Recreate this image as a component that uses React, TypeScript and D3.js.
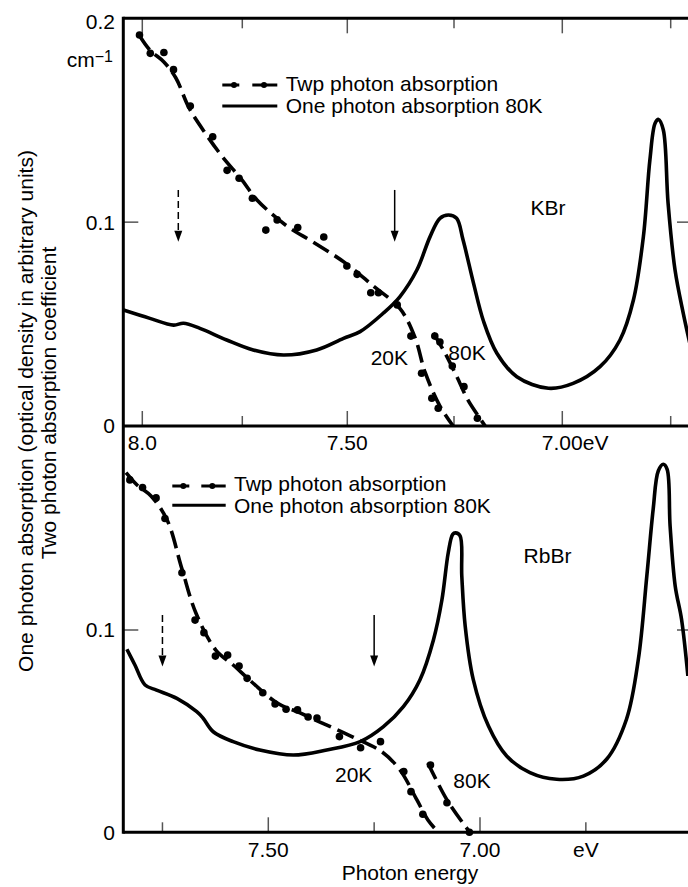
import React from "react";
import * as d3 from "d3";

type P = [number, number];

// x ticks (eV)
const topTicks = [8.0, 7.75, 7.5, 7.25, 7.0, 6.75];
const topTickLabels = ["8.0", "", "7.50", "", "7.00", ""];
const bottomTicks = [7.75, 7.5, 7.25, 7.0, 6.75];
const bottomTickLabels = ["", "7.50", "", "7.00", "eV"];
const yTickValues = [0, 0.1, 0.2];
const yTickLabelsTop = ["0", "0.1", "0.2"];
const yTickLabelsBottom = ["0", "0.1", ""];

// KBr (top panel)
const kbrOnePhoton: P[] = [
  [8.047, 0.0569], [7.981, 0.0528], [7.922, 0.0495], [7.897, 0.0504], [7.856, 0.0479],
  [7.789, 0.0422], [7.724, 0.0373], [7.652, 0.0348], [7.573, 0.0373], [7.509, 0.043],
  [7.47, 0.0463], [7.416, 0.0553], [7.377, 0.0634], [7.337, 0.0765], [7.306, 0.0929],
  [7.283, 0.1019], [7.263, 0.1035], [7.244, 0.1019], [7.229, 0.0912], [7.205, 0.0701],
  [7.182, 0.0515], [7.151, 0.0357], [7.105, 0.0242], [7.032, 0.0185], [6.975, 0.0209],
  [6.913, 0.0291], [6.867, 0.0422], [6.836, 0.0618], [6.813, 0.0929], [6.798, 0.1305],
  [6.786, 0.1485], [6.778, 0.1504], [6.767, 0.1452], [6.756, 0.1092], [6.74, 0.0765],
  [6.721, 0.0553], [6.705, 0.0397],
];
const kbr20KFit: P[] = [
  [8.008, 0.1918], [7.981, 0.1844], [7.946, 0.1786], [7.916, 0.1707], [7.883, 0.156],
  [7.841, 0.1432], [7.803, 0.1329], [7.751, 0.1207], [7.715, 0.1109], [7.644, 0.0981],
  [7.582, 0.0903], [7.505, 0.08], [7.442, 0.0692], [7.376, 0.0574], [7.341, 0.0432],
  [7.318, 0.0265], [7.283, 0.0098], [7.252, 0],
];
const kbr20KPoints: P[] = [
  [8.007, 0.1918], [7.98, 0.1828], [7.946, 0.1832], [7.922, 0.1748], [7.88, 0.157],
  [7.824, 0.1419], [7.788, 0.1254], [7.758, 0.1215], [7.726, 0.1117], [7.667, 0.1011],
  [7.694, 0.0961], [7.618, 0.0974], [7.556, 0.0927], [7.501, 0.0785], [7.477, 0.0744],
  [7.445, 0.0654], [7.427, 0.0654], [7.383, 0.0594], [7.351, 0.0441], [7.326, 0.0259],
  [7.302, 0.0136], [7.287, 0.0087],
];
const kbr80KFit: P[] = [[7.2985, 0.0456], [7.271, 0.0358], [7.243, 0.024], [7.218, 0.0128], [7.178, 0]];
const kbr80KPoints: P[] = [[7.295, 0.0441], [7.283, 0.0412], [7.254, 0.0294], [7.227, 0.0193], [7.196, 0.0038]];
const kbrArrows = [
  { e: 7.91, from: 0.1158, to: 0.0904, dashed: true },
  { e: 7.389, from: 0.1158, to: 0.0904, dashed: false },
];

// RbBr (bottom panel)
const rbbrOnePhoton: P[] = [
  [7.834, 0.0905], [7.815, 0.0827], [7.791, 0.0728], [7.764, 0.0703], [7.716, 0.0662],
  [7.669, 0.0596], [7.654, 0.0564], [7.63, 0.0497], [7.583, 0.0448], [7.52, 0.0407],
  [7.441, 0.0382], [7.362, 0.0407], [7.283, 0.0448], [7.228, 0.0522], [7.181, 0.0621],
  [7.142, 0.0753], [7.11, 0.0951], [7.09, 0.1148], [7.075, 0.1382], [7.0645, 0.1473],
  [7.058, 0.148], [7.047, 0.1465], [7.043, 0.1267], [7.035, 0.102], [7.016, 0.0756],
  [6.98, 0.0525], [6.937, 0.0377], [6.882, 0.0295], [6.819, 0.0262], [6.756, 0.0278],
  [6.701, 0.0361], [6.654, 0.0559], [6.626, 0.0855], [6.606, 0.1267], [6.591, 0.1597],
  [6.579, 0.1786], [6.567, 0.1819], [6.558, 0.1794], [6.551, 0.1514], [6.539, 0.1218],
  [6.524, 0.1053], [6.509, 0.0773],
];
const rbbr20KFit: P[] = [
  [7.836, 0.1778], [7.81, 0.1717], [7.777, 0.1662], [7.739, 0.1544], [7.704, 0.1302],
  [7.671, 0.1084], [7.624, 0.0901], [7.583, 0.0827], [7.539, 0.0743], [7.479, 0.0639],
  [7.425, 0.059], [7.378, 0.0545], [7.3, 0.0471], [7.231, 0.0397], [7.189, 0.0308],
  [7.149, 0.016], [7.123, 0.0061], [7.0985, 0],
];
const rbbr20KPoints: P[] = [
  [7.827, 0.1742], [7.797, 0.1704], [7.765, 0.1653], [7.744, 0.1551], [7.704, 0.1283],
  [7.673, 0.1049], [7.652, 0.0987], [7.625, 0.0871], [7.596, 0.0876], [7.569, 0.0822],
  [7.55, 0.0761], [7.513, 0.069], [7.484, 0.0634], [7.458, 0.0608], [7.431, 0.0605],
  [7.406, 0.057], [7.385, 0.0565], [7.332, 0.0473], [7.282, 0.0418], [7.235, 0.0448],
  [7.18, 0.03], [7.163, 0.0201], [7.135, 0.0089],
];
const rbbr80KFit: P[] = [[7.123, 0.0343], [7.078, 0.016], [7.024, 0]];
const rbbr80KPoints: P[] = [[7.117, 0.0333], [7.078, 0.0146], [7.025, 0]];
const rbbrArrows = [
  { e: 7.75, from: 0.1074, to: 0.0819, dashed: true },
  { e: 7.25, from: 0.1074, to: 0.0819, dashed: false },
];

const legendTwo = "Twp photon absorption";
const legendOne = "One photon absorption 80K";

const FONT = "'Liberation Sans', Arial, Helvetica, sans-serif";
const LEFT = 123.3;
const RIGHT = 692;

const xTop = d3.scaleLinear().domain([8.0, 7.75, 7.5, 7.25, 7.0, 6.75]).range([142.3, 242.3, 347.3, 454, 562.3, 670.7]);
const yTop = d3.scaleLinear().domain([0, 0.2]).range([426, 18.3]);
const xBot = d3.scaleLinear().domain([7.5, 7.0]).range([268.3, 480]);
const yBot = d3.scaleLinear().domain([0, 0.1]).range([832.3, 630]);

function Panel(props: {
  x: d3.ScaleLinear<number, number>;
  y: d3.ScaleLinear<number, number>;
  one: P[]; fit20: P[]; pts20: P[]; fit80: P[]; pts80: P[];
  arrows: { e: number; from: number; to: number; dashed: boolean }[];
  clipId: string;
}) {
  const { x, y } = props;
  const line = d3.line<P>().x((d) => x(d[0])).y((d) => y(d[1])).curve(d3.curveCatmullRom.alpha(0.5));
  return (
    <g>
      <g clipPath={`url(#${props.clipId})`}>
        <path d={line(props.one) || ""} fill="none" stroke="#000" strokeWidth={3.6} strokeLinejoin="round" />
        <path d={line(props.fit20) || ""} fill="none" stroke="#000" strokeWidth={3.6} strokeDasharray="18 7" />
        <path d={line(props.fit80) || ""} fill="none" stroke="#000" strokeWidth={3.6} strokeDasharray="18 7" />
      </g>
      {props.pts20.concat(props.pts80).map((d, i) => (
        <circle key={i} cx={x(d[0])} cy={y(d[1])} r={3.8} fill="#000" />
      ))}
      {props.arrows.map((a, i) => {
        const ax = x(a.e);
        const y1 = y(a.from);
        const y2 = y(a.to);
        return (
          <g key={i}>
            <line x1={ax} x2={ax} y1={y1} y2={y2 - 9} stroke="#000" strokeWidth={1.5} strokeDasharray={a.dashed ? "7 4" : undefined} />
            <path d={`M${ax - 4},${y2 - 11} L${ax + 4},${y2 - 11} L${ax},${y2} Z`} fill="#000" />
          </g>
        );
      })}
    </g>
  );
}

export default function App() {
  const tickLen = (v: number) => (Math.abs(Math.round(v * 2) - v * 2) < 1e-6 ? 15 : 10);
  return (
    <svg width={688} height={887} style={{ position: "absolute", left: 0, top: 0, background: "#fff" }} fontFamily={FONT}>
      <defs>
        <clipPath id="clipTop"><rect x={LEFT} y={0} width={RIGHT - LEFT} height={887} /></clipPath>
        <clipPath id="clipBot"><rect x={LEFT} y={0} width={RIGHT - LEFT} height={887} /></clipPath>
      </defs>
      <rect x={0} y={0} width={688} height={887} fill="#fff" />

      {/* ticks top panel */}
      {topTicks.map((t, i) => (
        <g key={"tt" + i}>
          <line x1={xTop(t)} x2={xTop(t)} y1={yTop(0)} y2={yTop(0) - tickLen(t)} stroke="#555" strokeWidth={1.5} />
          <line x1={xTop(t)} x2={xTop(t)} y1={yTop(0.2)} y2={yTop(0.2) + tickLen(t)} stroke="#555" strokeWidth={1.5} />
          {topTickLabels[i] && (
            <text x={xTop(t)} y={450} fontSize={21} textAnchor="middle">{topTickLabels[i]}</text>
          )}
        </g>
      ))}
      <text x={xTop(7.0) + 20.5} y={450} fontSize={21} textAnchor="start">eV</text>
      {bottomTicks.map((t, i) => (
        <g key={"bt" + i}>
          <line x1={xBot(t)} x2={xBot(t)} y1={yBot(0)} y2={yBot(0) - tickLen(t)} stroke="#555" strokeWidth={1.5} />
          {bottomTickLabels[i] && (
            <text x={xBot(t)} y={856.7} fontSize={21} textAnchor="middle">{bottomTickLabels[i]}</text>
          )}
        </g>
      ))}
      {/* y ticks */}
      {yTickValues.map((v, i) => (
        <g key={"yt" + i}>
          {v === 0.1 && (
            <>
              <line x1={LEFT} x2={LEFT + 15} y1={yTop(v)} y2={yTop(v)} stroke="#555" strokeWidth={1.5} />
              <line x1={RIGHT - 15} x2={RIGHT} y1={yTop(v)} y2={yTop(v)} stroke="#555" strokeWidth={1.5} />
              <line x1={LEFT} x2={LEFT + 15} y1={yBot(v)} y2={yBot(v)} stroke="#555" strokeWidth={1.5} />
              <line x1={RIGHT - 15} x2={RIGHT} y1={yBot(v)} y2={yBot(v)} stroke="#555" strokeWidth={1.5} />
            </>
          )}
          {yTickLabelsTop[i] && (
            <text x={115} y={yTop(v) + (v === 0.2 ? 3.4 : 0)} dy="0.35em" fontSize={21} textAnchor="end">{yTickLabelsTop[i]}</text>
          )}
          {yTickLabelsBottom[i] && (
            <text x={115} y={yBot(v)} dy="0.35em" fontSize={21} textAnchor="end">{yTickLabelsBottom[i]}</text>
          )}
        </g>
      ))}
      <text x={113} y={66.7} fontSize={21} textAnchor="end">
        cm<tspan fontSize={16} dy={-5}>−1</tspan>
      </text>

      {/* frame */}
      <line x1={LEFT} x2={LEFT} y1={yTop(0.2) - 1.5} y2={yBot(0) + 1.5} stroke="#000" strokeWidth={3} />
      <line x1={LEFT} x2={RIGHT} y1={yTop(0.2)} y2={yTop(0.2)} stroke="#000" strokeWidth={3} />
      <line x1={LEFT} x2={RIGHT} y1={yTop(0)} y2={yTop(0)} stroke="#000" strokeWidth={3} />
      <line x1={LEFT} x2={RIGHT} y1={yBot(0)} y2={yBot(0)} stroke="#000" strokeWidth={3} />

      <Panel x={xTop} y={yTop} one={kbrOnePhoton} fit20={kbr20KFit} pts20={kbr20KPoints} fit80={kbr80KFit} pts80={kbr80KPoints} arrows={kbrArrows} clipId="clipTop" />
      <Panel x={xBot} y={yBot} one={rbbrOnePhoton} fit20={rbbr20KFit} pts20={rbbr20KPoints} fit80={rbbr80KFit} pts80={rbbr80KPoints} arrows={rbbrArrows} clipId="clipBot" />

      {/* legends */}
      <g>
        <line x1={222.3} x2={239.3} y1={85} y2={85} stroke="#000" strokeWidth={3} />
        <line x1={252.3} x2={277.3} y1={85} y2={85} stroke="#000" strokeWidth={3} />
        <circle cx={234} cy={85} r={3} fill="#000" />
        <circle cx={264} cy={85} r={3} fill="#000" />
        <text x={285.7} y={90.5} fontSize={21}>{legendTwo}</text>
        <line x1={222.3} x2={277.3} y1={106} y2={106} stroke="#000" strokeWidth={3} />
        <text x={285.7} y={113.3} fontSize={21}>{legendOne}</text>
      </g>
      <g>
        <line x1={172.3} x2={189.3} y1={486} y2={486} stroke="#000" strokeWidth={3} />
        <line x1={201.3} x2={225.7} y1={486} y2={486} stroke="#000" strokeWidth={3} />
        <circle cx={183.3} cy={486} r={3} fill="#000" />
        <circle cx={212.3} cy={486} r={3} fill="#000" />
        <text x={234} y={490.5} fontSize={21}>{legendTwo}</text>
        <line x1={172.3} x2={225.7} y1={505.3} y2={505.3} stroke="#000" strokeWidth={3} />
        <text x={234} y={513.3} fontSize={21}>{legendOne}</text>
      </g>

      {/* labels */}
      <text x={548} y={215} fontSize={21} textAnchor="middle">KBr</text>
      <text x={370.7} y={365} fontSize={21}>20K</text>
      <text x={448.3} y={360} fontSize={21}>80K</text>
      <text x={547.5} y={562.7} fontSize={21} textAnchor="middle">RbBr</text>
      <text x={335} y={781.7} fontSize={21}>20K</text>
      <text x={453.3} y={788.3} fontSize={21}>80K</text>

      <text x={410} y={880} fontSize={21} textAnchor="middle">Photon energy</text>
      <text transform="translate(33,411) rotate(-90)" fontSize={21} textAnchor="middle">
        One photon absorption (optical density in arbitrary units)
      </text>
      <text transform="translate(56,403) rotate(-90)" fontSize={21} textAnchor="middle">
        Two photon absorption coefficient
      </text>
    </svg>
  );
}
